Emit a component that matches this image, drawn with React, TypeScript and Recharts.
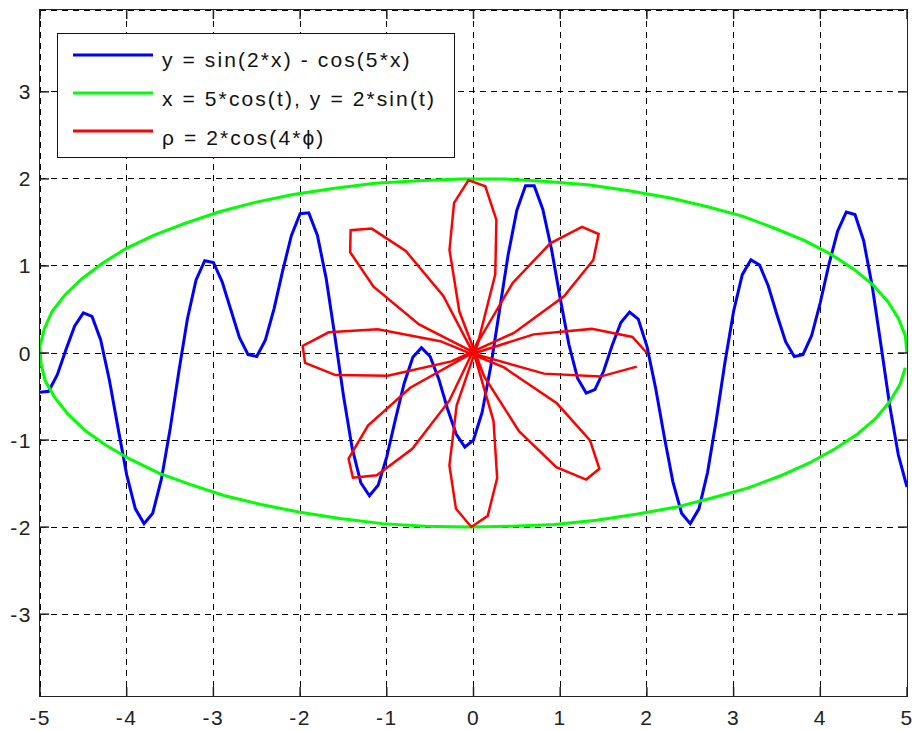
import { LineChart, Line, XAxis, YAxis, CartesianGrid } from 'recharts';

const FONT = '"Liberation Sans", Arial, sans-serif';
const PLOT_W = 867;
const PLOT_H = 686;
const TICK = 9;

const xTicks = [-5, -4, -3, -2, -1, 0, 1, 2, 3, 4, 5];
const yTicks = [-3, -2, -1, 0, 1, 2, 3];

// y = sin(2*x) - cos(5*x)
const blueX = [
  -5, -4.9, -4.8, -4.7, -4.6, -4.5, -4.4, -4.3, -4.2, -4.1,
  -4, -3.9, -3.8, -3.7, -3.6, -3.5, -3.4, -3.3, -3.2, -3.1,
  -3, -2.9, -2.8, -2.7, -2.6, -2.5, -2.4, -2.3, -2.2, -2.1,
  -2, -1.9, -1.8, -1.7, -1.6, -1.5, -1.4, -1.3, -1.2, -1.1,
  -1, -0.9, -0.8, -0.7, -0.6, -0.5, -0.4, -0.3, -0.2, -0.1,
  0, 0.1, 0.2, 0.3, 0.4, 0.5, 0.6, 0.7, 0.8, 0.9,
  1, 1.1, 1.2, 1.3, 1.4, 1.5, 1.6, 1.7, 1.8, 1.9,
  2, 2.1, 2.2, 2.3, 2.4, 2.5, 2.6, 2.7, 2.8, 2.9,
  3, 3.1, 3.2, 3.3, 3.4, 3.5, 3.6, 3.7, 3.8, 3.9,
  4, 4.1, 4.2, 4.3, 4.4, 4.5, 4.6, 4.7, 4.8, 4.9, 5,
];
const blueY = [
  -0.45, -0.44, -0.25, 0.04, 0.31, 0.46, 0.42, 0.15, -0.31, -0.86,
  -1.4, -1.79, -1.96, -1.84, -1.45, -0.88, -0.22, 0.39, 0.84, 1.06,
  1.04, 0.82, 0.5, 0.18, -0.02, -0.04, 0.15, 0.51, 0.95, 1.35,
  1.6, 1.61, 1.35, 0.86, 0.2, -0.49, -1.09, -1.49, -1.64, -1.52,
  -1.19, -0.76, -0.35, -0.05, 0.06, -0.04, -0.3, -0.64, -0.93, -1.08,
  -1, -0.68, -0.15, 0.49, 1.13, 1.64, 1.92, 1.92, 1.65, 1.19,
  0.63, 0.1, -0.29, -0.46, -0.42, -0.21, 0.09, 0.35, 0.47, 0.39,
  0.08, -0.4, -0.96, -1.48, -1.84, -1.96, -1.79, -1.37, -0.77, -0.11,
  0.48, 0.9, 1.07, 1.01, 0.77, 0.44, 0.13, -0.04, -0.02, 0.2,
  0.58, 1.02, 1.4, 1.62, 1.59, 1.29, 0.76, 0.09, -0.6, -1.17, -1.54,
];

// x = 5*cos(t), y = 2*sin(t)
const ellipseX = [
  5, 4.98, 4.9, 4.78, 4.61, 4.39, 4.13, 3.82, 3.48, 3.11,
  2.7, 2.27, 1.81, 1.34, 0.85, 0.35, -0.15, -0.64, -1.14, -1.62,
  -2.08, -2.52, -2.94, -3.33, -3.69, -4.01, -4.28, -4.52, -4.71, -4.86,
  -4.95, -5, -4.99, -4.94, -4.83, -4.68, -4.48, -4.24, -3.96, -3.63,
  -3.27, -2.87, -2.45, -2, -1.54, -1.05, -0.56, -0.06, 0.44, 0.93,
  1.42, 1.89, 2.34, 2.77, 3.17, 3.54, 3.88, 4.17, 4.43, 4.64,
  4.8, 4.92, 4.98,
];
const ellipseY = [
  0, 0.2, 0.4, 0.59, 0.78, 0.96, 1.13, 1.29, 1.43, 1.57,
  1.68, 1.78, 1.86, 1.93, 1.97, 2, 2, 1.98, 1.95, 1.89,
  1.82, 1.73, 1.62, 1.49, 1.35, 1.2, 1.03, 0.85, 0.67, 0.48,
  0.28, 0.08, -0.12, -0.32, -0.51, -0.7, -0.89, -1.06, -1.22, -1.38,
  -1.51, -1.64, -1.74, -1.83, -1.9, -1.96, -1.99, -2, -1.99, -1.97,
  -1.92, -1.85, -1.77, -1.66, -1.55, -1.41, -1.26, -1.1, -0.93, -0.75,
  -0.56, -0.36, -0.17,
];

// rho = 2*cos(4*phi)
const roseX = [
  2, 1.833, 1.365, 0.693, -0.053, -0.73, -1.217, -1.441, -1.391, -1.115,
  -0.706, -0.279, 0.063, 0.251, 0.264, 0.136, -0.058, -0.224, -0.277, -0.163,
  0.121, 0.524, 0.955, 1.299, 1.452, 1.344, 0.961, 0.352, -0.383, -1.105,
  -1.671, -1.97, -1.943, -1.592, -0.989, -0.256, 0.466, 1.044, 1.382, 1.443,
  1.252, 0.885, 0.452, 0.063, -0.194, -0.278, -0.202, -0.025, 0.164, 0.273,
  0.231, 0.015, -0.348, -0.781, -1.174, -1.417, -1.423, -1.153, -0.628, 0.07,
  0.814, 1.462, 1.883,
];
const roseY = [
  0, 0.184, 0.277, 0.214, -0.023, -0.399, -0.833, -1.214, -1.433, -1.405,
  -1.1, -0.548, 0.163, 0.903, 1.528, 1.915, 1.985, 1.725, 1.185, 0.476,
  -0.265, -0.897, -1.311, -1.454, -1.33, -1.004, -0.578, -0.166, 0.136, 0.272,
  0.238, 0.082, -0.114, -0.254, -0.261, -0.096, 0.23, 0.652, 1.069, 1.367,
  1.449, 1.26, 0.804, 0.144, -0.6, -1.291, -1.79, -1.998, -1.871, -1.437,
  -0.782, -0.038, 0.656, 1.172, 1.429, 1.411, 1.158, 0.761, 0.329, -0.028,
  -0.237, -0.271, -0.157,
];

const legendLabels = [
  'y = sin(2*x) - cos(5*x)',
  'x = 5*cos(t), y = 2*sin(t)',
  'ρ = 2*cos(4*ϕ)',
];
const colors = ['#0000ff', '#00ff00', '#ff0000'];

const zip = (xs: number[], ys: number[]) => xs.map((x, i) => ({ x, y: ys[i] }));
const blueData = zip(blueX, blueY);
const ellipseData = zip(ellipseX, ellipseY);
const roseData = zip(roseX, roseY);

const XTick = (props: any) => {
  const { x, y, payload } = props;
  return (
    <g>
      <line x1={x} x2={x} y1={y} y2={y - TICK} stroke="#222" strokeWidth={1.5} />
      <line x1={x} x2={x} y1={y - PLOT_H} y2={y - PLOT_H + TICK} stroke="#222" strokeWidth={1.5} />
      <text x={x} y={y + 29} textAnchor="middle" fontSize={21} fontFamily={FONT} fill="#222" letterSpacing={1.5}>
        {payload.value}
      </text>
    </g>
  );
};

const YTick = (props: any) => {
  const { x, y, payload } = props;
  return (
    <g>
      <line x1={x} x2={x + TICK} y1={y} y2={y} stroke="#222" strokeWidth={1.5} />
      <line x1={x + PLOT_W} x2={x + PLOT_W - TICK} y1={y} y2={y} stroke="#222" strokeWidth={1.5} />
      <text x={x - 8} y={y + 7.5} textAnchor="end" fontSize={21} fontFamily={FONT} fill="#222" letterSpacing={1.5}>
        {payload.value}
      </text>
    </g>
  );
};

export default function App() {
  return (
    <div style={{ position: 'absolute', left: 0, top: 0, width: 915, height: 730, background: '#fff' }}>
      <LineChart width={915} height={730} margin={{ top: 10, right: 8, bottom: 0, left: 0 }}>
        <CartesianGrid stroke="#000" strokeDasharray="6 5" strokeWidth={1} shapeRendering="crispEdges" />
        <XAxis
          type="number"
          dataKey="x"
          domain={[-5, 5]}
          ticks={xTicks}
          allowDataOverflow
          height={34}
          tickSize={0}
          tickMargin={0}
          tickLine={false}
          axisLine={false}
          tick={<XTick />}
          interval={0}
        />
        <YAxis
          type="number"
          dataKey="y"
          domain={[-3.94, 3.94]}
          ticks={yTicks}
          allowDataOverflow
          width={40}
          tickSize={0}
          tickMargin={0}
          tickLine={false}
          axisLine={false}
          tick={<YTick />}
          interval={0}
        />
        <Line data={blueData} dataKey="y" type="linear" stroke={colors[0]} strokeWidth={3} dot={false} isAnimationActive={false} />
        <Line data={ellipseData} dataKey="y" type="linear" stroke={colors[1]} strokeWidth={3} dot={false} isAnimationActive={false} />
        <Line data={roseData} dataKey="y" type="linear" stroke={colors[2]} strokeWidth={2.5} dot={false} isAnimationActive={false} />
      </LineChart>
      <div
        style={{
          position: 'absolute', left: 39.25, top: 9.25, width: PLOT_W + 1.5, height: PLOT_H + 1.5,
          border: '1.5px solid #222', boxSizing: 'border-box', pointerEvents: 'none',
        }}
      />
      <div
        style={{
          position: 'absolute', left: 57, top: 33, width: 398, height: 125,
          border: '1.5px solid #111', boxSizing: 'border-box', background: '#fff',
        }}
      >
        <svg width={396} height={123} style={{ display: 'block' }}>
          {legendLabels.map((label, i) => (
            <g key={label}>
              <line x1={15} x2={95} y1={21 + i * 38} y2={21 + i * 38} stroke={colors[i]} strokeWidth={3} />
              <text x={104} y={33 + i * 39} fontSize={21} fontFamily={FONT} fill="#111" letterSpacing={2.1}>
                {label}
              </text>
            </g>
          ))}
        </svg>
      </div>
    </div>
  );
}
